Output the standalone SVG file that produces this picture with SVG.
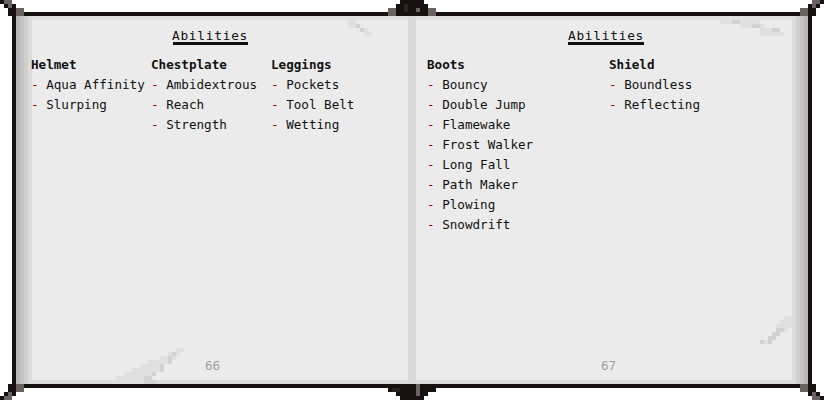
<svg xmlns="http://www.w3.org/2000/svg" width="824" height="400" viewBox="0 0 824 400" shape-rendering="crispEdges">
<style>
text{font-family:"DejaVu Sans Mono","Liberation Mono",monospace;font-size:12.6px;fill:#111111}
.h{font-weight:bold}
.t{text-anchor:middle;letter-spacing:0.75px;font-size:12.8px}
.d{fill:#a00000}
.pn{fill:#a0a0a0}
.dk{fill:#161010}
.gy{fill:#6a6262}
.curl{fill:#e0e0e0}
.curl2{fill:#d2d2d2}
</style>
<defs>
<g id="corner">
<rect class="dk" x="0" y="0" width="4" height="4"/>
<rect class="gy" x="4" y="0" width="8" height="4"/>
<rect class="dk" x="4" y="4" width="12" height="4"/>
<rect class="gy" x="8" y="4" width="4" height="4"/>
<rect class="dk" x="8" y="8" width="8" height="8"/>
<rect class="gy" x="16" y="8" width="8" height="4"/>
<rect class="gy" x="16" y="12" width="8" height="4"/>
<rect class="dk" x="12" y="12" width="4" height="8"/>
</g>
</defs>
<rect x="0" y="0" width="824" height="400" fill="#ffffff"/>
<g id="book">
<rect x="12" y="12" width="800" height="376" fill="#161010"/>
<rect x="16" y="16" width="792" height="368" fill="#ebebeb"/>
<rect x="16" y="16" width="792" height="4" fill="#e0e0e0"/>
<rect x="16" y="380" width="792" height="4" fill="#dcdcdc"/>
<rect x="16" y="16" width="4" height="368" fill="#b8b8b8"/>
<rect x="20" y="16" width="4" height="368" fill="#c4c4c4"/>
<rect x="24" y="16" width="4" height="368" fill="#cecece"/>
<rect x="28" y="16" width="4" height="368" fill="#dcdcdc"/>
<rect x="792" y="16" width="4" height="368" fill="#dcdcdc"/>
<rect x="796" y="16" width="4" height="368" fill="#cecece"/>
<rect x="800" y="16" width="4" height="368" fill="#c4c4c4"/>
<rect x="804" y="16" width="4" height="368" fill="#b8b8b8"/>
<rect x="408" y="16" width="8" height="368" fill="#d8d8d8"/>
</g>
<g id="curls">
<rect class="curl" x="348" y="20" width="8" height="8"/>
<rect class="curl2" x="356" y="24" width="4" height="4"/>
<rect class="curl2" x="360" y="28" width="4" height="4"/>
<rect class="curl" x="364" y="28" width="4" height="4"/>
<rect class="curl" x="364" y="32" width="8" height="4"/>
<rect class="curl" x="720" y="20" width="40" height="4"/>
<rect class="curl2" x="732" y="20" width="8" height="4"/>
<rect class="curl" x="740" y="24" width="24" height="4"/>
<rect class="curl2" x="752" y="24" width="8" height="4"/>
<rect class="curl" x="760" y="28" width="20" height="4"/>
<rect class="curl2" x="772" y="28" width="8" height="4"/>
<rect class="curl" x="760" y="32" width="24" height="4"/>
<rect class="curl" x="176" y="348" width="8" height="4"/>
<rect class="curl" x="168" y="352" width="12" height="4"/>
<rect class="curl2" x="172" y="352" width="4" height="4"/>
<rect class="curl" x="160" y="356" width="16" height="4"/>
<rect class="curl2" x="168" y="356" width="4" height="8"/>
<rect class="curl" x="148" y="360" width="20" height="4"/>
<rect class="curl" x="140" y="364" width="24" height="4"/>
<rect class="curl2" x="160" y="364" width="4" height="8"/>
<rect class="curl" x="132" y="368" width="28" height="4"/>
<rect class="curl" x="124" y="372" width="32" height="4"/>
<rect class="curl2" x="152" y="372" width="4" height="4"/>
<rect class="curl" x="116" y="376" width="32" height="4"/>
<rect class="curl2" x="144" y="376" width="8" height="4"/>
<rect class="curl" x="112" y="380" width="32" height="4"/>
<rect class="curl2" x="144" y="380" width="12" height="4"/>
<rect class="curl" x="784" y="316" width="8" height="4"/>
<rect class="curl" x="780" y="320" width="12" height="4"/>
<rect class="curl" x="776" y="324" width="16" height="4"/>
<rect class="curl2" x="776" y="328" width="8" height="4"/>
<rect class="curl" x="784" y="328" width="4" height="4"/>
<rect class="curl2" x="772" y="332" width="8" height="4"/>
<rect class="curl2" x="768" y="336" width="8" height="4"/>
<rect class="curl2" x="760" y="340" width="12" height="4"/>
<rect class="curl" x="764" y="340" width="4" height="4"/>
</g>
<g id="corners">
<use href="#corner"/>
<use href="#corner" transform="translate(824,0) scale(-1,1)"/>
<use href="#corner" transform="translate(0,400) scale(1,-1)"/>
<use href="#corner" transform="translate(824,400) scale(-1,-1)"/>
</g>
<g id="spine-top">
<rect class="dk" x="400" y="0" width="24" height="4"/>
<rect class="dk" x="396" y="4" width="32" height="4"/>
<rect class="dk" x="388" y="8" width="48" height="4"/>
<rect class="gy" x="388" y="8" width="8" height="8"/>
<rect class="gy" x="428" y="8" width="8" height="8"/>
<rect class="gy" x="416" y="8" width="4" height="4"/>
<rect fill="#2a2222" x="404" y="4" width="4" height="8"/>
</g>
<g id="spine-bottom">
<rect class="dk" x="388" y="388" width="48" height="4"/>
<rect class="dk" x="396" y="392" width="32" height="4"/>
<rect class="dk" x="400" y="396" width="24" height="4"/>
<rect fill="#2a2222" x="392" y="388" width="8" height="4"/>
<rect class="gy" x="416" y="384" width="4" height="12"/>
</g>
<g id="page-left">
<text class="t" x="210" y="40">Abilities</text>
<rect x="173" y="42" width="75" height="3" fill="#111111"/>
<g id="col-helmet">
<text class="h" x="31" y="69">Helmet</text>
<text x="31" y="89"><tspan class="d">-</tspan> Aqua Affinity</text>
<text x="31" y="109"><tspan class="d">-</tspan> Slurping</text>
</g>
<g id="col-chestplate">
<text class="h" x="151" y="69">Chestplate</text>
<text x="151" y="89"><tspan class="d">-</tspan> Ambidextrous</text>
<text x="151" y="109"><tspan class="d">-</tspan> Reach</text>
<text x="151" y="129"><tspan class="d">-</tspan> Strength</text>
</g>
<g id="col-leggings">
<text class="h" x="271" y="69">Leggings</text>
<text x="271" y="89"><tspan class="d">-</tspan> Pockets</text>
<text x="271" y="109"><tspan class="d">-</tspan> Tool Belt</text>
<text x="271" y="129"><tspan class="d">-</tspan> Wetting</text>
</g>
<text class="pn" x="205" y="370">66</text>
</g>
<g id="page-right">
<text class="t" x="606" y="40">Abilities</text>
<rect x="568" y="42" width="76" height="3" fill="#111111"/>
<g id="col-boots">
<text class="h" x="427" y="69">Boots</text>
<text x="427" y="89"><tspan class="d">-</tspan> Bouncy</text>
<text x="427" y="109"><tspan class="d">-</tspan> Double Jump</text>
<text x="427" y="129"><tspan class="d">-</tspan> Flamewake</text>
<text x="427" y="149"><tspan class="d">-</tspan> Frost Walker</text>
<text x="427" y="169"><tspan class="d">-</tspan> Long Fall</text>
<text x="427" y="189"><tspan class="d">-</tspan> Path Maker</text>
<text x="427" y="209"><tspan class="d">-</tspan> Plowing</text>
<text x="427" y="229"><tspan class="d">-</tspan> Snowdrift</text>
</g>
<g id="col-shield">
<text class="h" x="609" y="69">Shield</text>
<text x="609" y="89"><tspan class="d">-</tspan> Boundless</text>
<text x="609" y="109"><tspan class="d">-</tspan> Reflecting</text>
</g>
<text class="pn" x="601" y="370">67</text>
</g>
</svg>
